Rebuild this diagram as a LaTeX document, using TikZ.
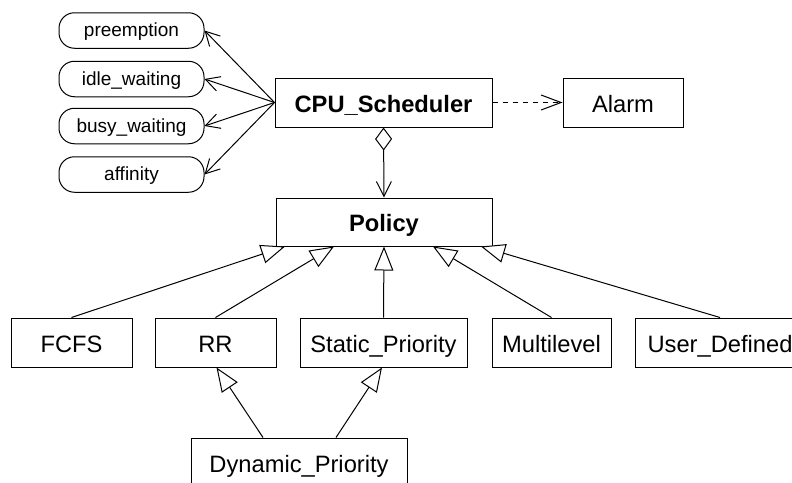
\documentclass[tikz,border=0pt]{standalone}
\usepackage{fontspec}
\setmainfont{Liberation Sans}
\usetikzlibrary{arrows.meta}
\begin{document}
\begin{tikzpicture}[x=1pt,y=-1pt,line width=1pt,
  cls/.style={draw,rectangle,inner sep=0pt,minimum height=49pt,text height=24pt,text depth=4.4pt,font=\fontsize{23.7pt}{26pt}\selectfont},
  bcls/.style={cls,font=\fontsize{23.7pt}{26pt}\selectfont\bfseries},
  attrbox/.style={draw,rectangle,rounded corners=15.5pt,inner sep=0pt,minimum width=145pt,minimum height=35.5pt,text height=15pt,text depth=2.5pt,font=\fontsize{19pt}{22pt}\selectfont},
  vhead/.style={-{Straight Barb[length=14pt,width=15pt,line width=1pt]}},
  inh/.style={-{Triangle[open,length=24pt,width=19pt,line width=1pt,fill=white]}},
  agg/.style={{Diamond[open,length=23pt,width=17pt,line width=1pt,fill=white]}-{Straight Barb[length=15pt,width=15pt,line width=1pt]}},
  dep/.style={dash pattern=on 5pt off 5pt,-{Straight Barb[length=20pt,width=15pt,line width=1pt]}}]
\useasboundingbox (0,0) rectangle (792,482);
% attribute boxes
\node[attrbox] (pre)  at (131.5,30.5) {preemption};
\node[attrbox] (idle) at (131.5,79) {idle\_waiting};
\node[attrbox] (busy) at (131.5,126) {busy\_waiting};
\node[attrbox] (aff)  at (131.5,174.5) {affinity};
% classes
\node[bcls,minimum width=217pt] (cpu) at (383.5,102.5) {CPU\_Scheduler};
\node[cls,minimum width=120pt] (alarm) at (623,102.5) {Alarm};
\node[bcls,minimum width=216pt,minimum height=48pt] (policy) at (384,222) {Policy};
\node[cls,minimum width=121pt] (fcfs) at (71.5,342.5) {FCFS};
\node[cls,minimum width=121pt] (rr) at (215.5,342.5) {RR};
\node[cls,minimum width=167pt] (static) at (383.5,342.5) {Static\_Priority};
\node[cls,minimum width=119pt] (multi) at (551.5,342.5) {Multilevel};
\node[cls,minimum width=170pt] (user) at (720,342.5) {User\_Defined};
\node[cls,minimum width=216pt] (dyn) at (299,462.5) {Dynamic\_Priority};
% attribute links
\draw[vhead] (cpu.west) -- (pre.east);
\draw[vhead] (cpu.west) -- (idle.east);
\draw[vhead] (cpu.west) -- (busy.east);
\draw[vhead] (cpu.west) -- (aff.east);
% dependency
\draw[dep] (cpu.east) -- (alarm.west);
% aggregation
\draw[agg] (cpu.south) -- (policy.north);
% inheritance
\draw[inh] (fcfs.north) -- ([xshift=-99pt]policy.south);
\draw[inh] (rr.north) -- ([xshift=-50pt]policy.south);
\draw[inh] (static.north) -- (policy.south);
\draw[inh] (multi.north) -- ([xshift=49pt]policy.south);
\draw[inh] (user.north) -- ([xshift=97pt]policy.south);
\draw[inh] ([xshift=-36pt]dyn.north) -- ([xshift=1pt]rr.south);
\draw[inh] ([xshift=37pt]dyn.north) -- ([xshift=-1.5pt]static.south);
\end{tikzpicture}
\end{document}
